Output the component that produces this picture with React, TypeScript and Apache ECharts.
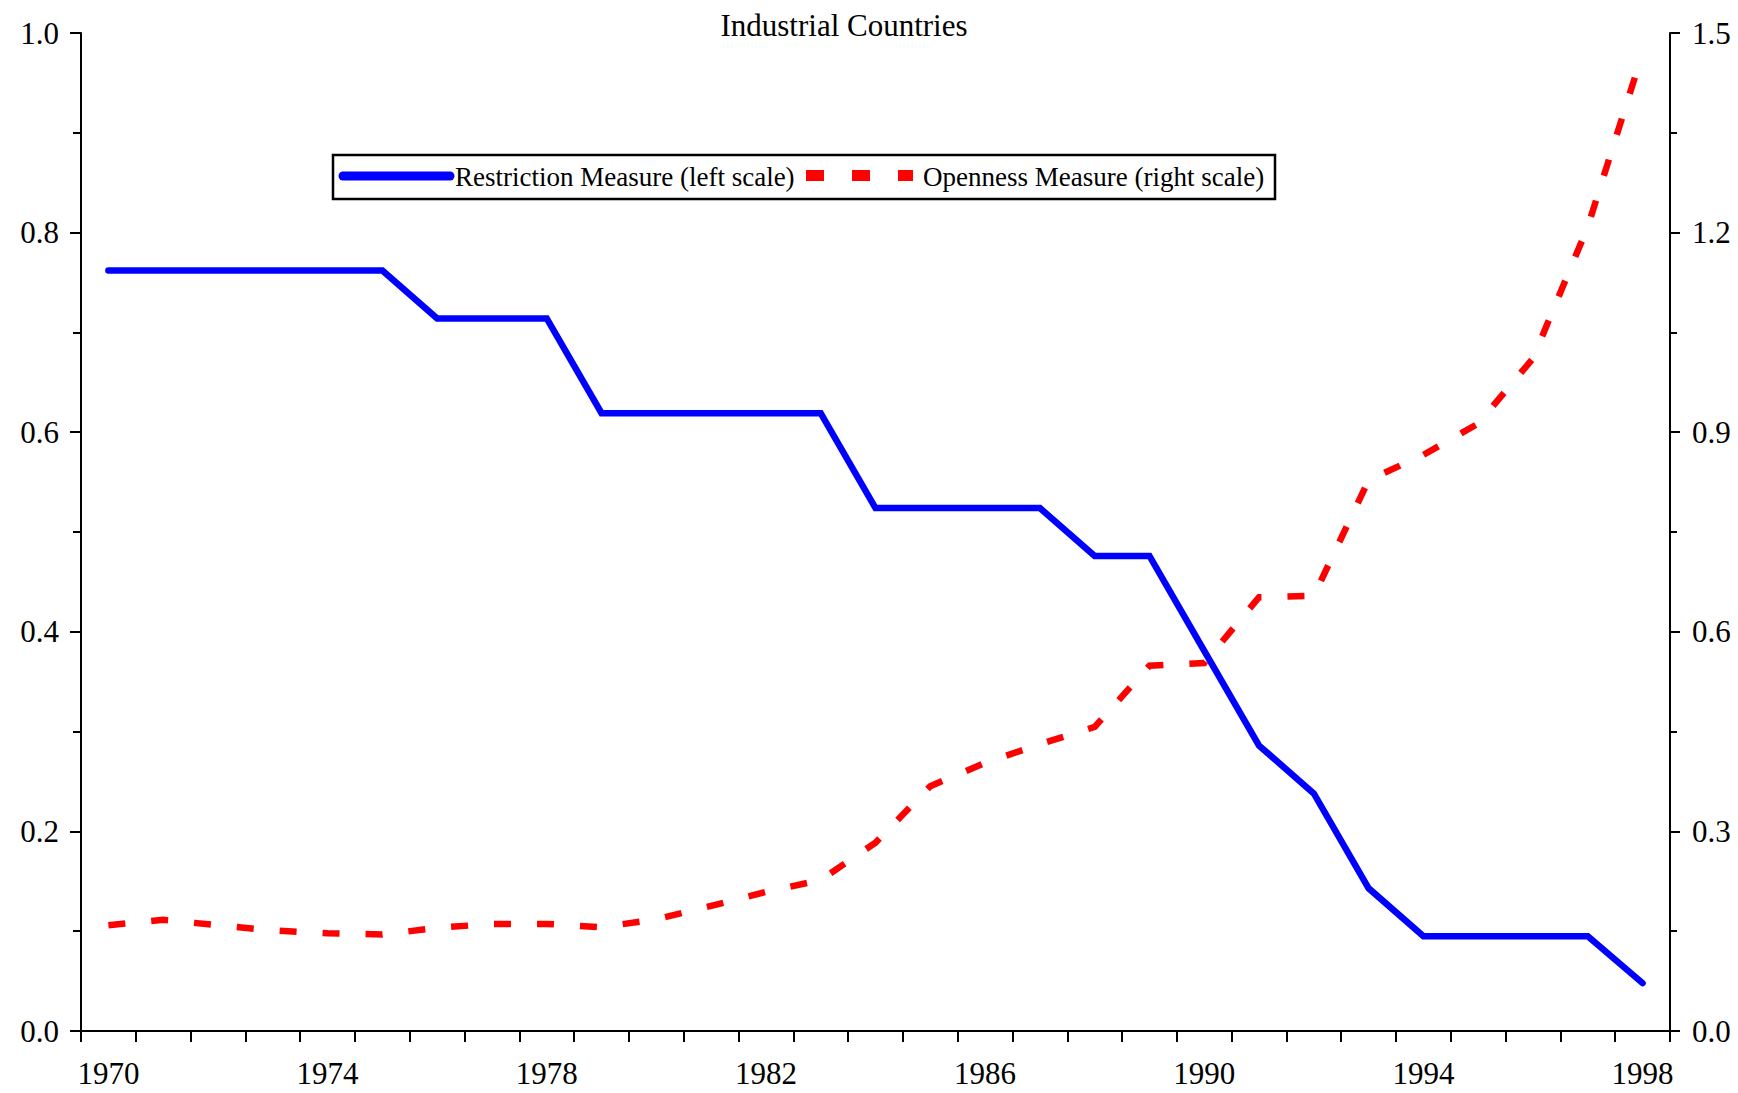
import React, { useEffect, useRef } from "react";
import * as echarts from "echarts";

const years = [
  "1970", "1971", "1972", "1973", "1974", "1975", "1976", "1977", "1978", "1979",
  "1980", "1981", "1982", "1983", "1984", "1985", "1986", "1987", "1988", "1989",
  "1990", "1991", "1992", "1993", "1994", "1995", "1996", "1997", "1998",
];

// Restriction Measure (left scale)
const restriction = [
  0.762, 0.762, 0.762, 0.762, 0.762, 0.762, 0.714, 0.714, 0.714, 0.619,
  0.619, 0.619, 0.619, 0.619, 0.524, 0.524, 0.524, 0.524, 0.476, 0.476,
  0.381, 0.286, 0.238, 0.143, 0.095, 0.095, 0.095, 0.095, 0.048,
];

// Openness Measure (right scale)
const openness = [
  0.159, 0.167, 0.159, 0.151, 0.147, 0.145, 0.155, 0.161, 0.161, 0.156,
  0.168, 0.188, 0.209, 0.227, 0.283, 0.368, 0.403, 0.431, 0.457, 0.549,
  0.553, 0.652, 0.654, 0.828, 0.866, 0.913, 1.011, 1.209, 1.47,
];

const titleText = "Industrial Countries";
const restrictionName = "Restriction Measure (left scale)";
const opennessName = "Openness Measure (right scale)";

const FONT = "'Liberation Serif', 'Times New Roman', serif";

export default function App() {
  const ref = useRef<HTMLDivElement>(null);

  useEffect(() => {
    if (!ref.current) return;
    const chart = echarts.init(ref.current, null, { renderer: "svg" });
    const axisLine = { show: true, lineStyle: { color: "#000", width: 2 } };
    const labelStyle = { color: "#000", fontSize: 31, fontFamily: FONT };

    chart.setOption({
      animation: false,
      backgroundColor: "#fff",
      grid: { left: 81, right: 68, top: 33, bottom: 62, containLabel: false },
      xAxis: {
        type: "category",
        data: years,
        boundaryGap: true,
        axisLine: { ...axisLine, onZero: false },
        axisTick: { show: true, interval: 0, length: 11, lineStyle: { color: "#000", width: 2 } },
        axisLabel: { ...labelStyle, interval: 3, margin: 27 },
        splitLine: { show: false },
      },
      yAxis: [
        {
          type: "value",
          position: "left",
          min: 0,
          max: 1,
          interval: 0.2,
          axisLine,
          axisTick: { show: true, length: 11, lineStyle: { color: "#000", width: 2 } },
          minorTick: { show: true, splitNumber: 2, length: 8, lineStyle: { color: "#000", width: 2 } },
          axisLabel: { ...labelStyle, margin: 22, formatter: (v: number) => v.toFixed(1) },
          splitLine: { show: false },
        },
        {
          type: "value",
          position: "right",
          min: 0,
          max: 1.5,
          interval: 0.3,
          axisLine,
          axisTick: { show: true, length: 10, lineStyle: { color: "#000", width: 2 } },
          minorTick: { show: true, splitNumber: 2, length: 7, lineStyle: { color: "#000", width: 2 } },
          axisLabel: { ...labelStyle, margin: 22, formatter: (v: number) => v.toFixed(1) },
          splitLine: { show: false },
        },
      ],
      series: [
        {
          name: restrictionName,
          type: "line",
          yAxisIndex: 0,
          data: restriction,
          symbol: "none",
          lineStyle: { color: "#0000ff", width: 6.5, join: "miter", cap: "round" },
          z: 2,
        },
        {
          name: opennessName,
          type: "line",
          yAxisIndex: 1,
          data: openness,
          symbol: "none",
          lineStyle: { color: "#ff0000", width: 6.5, type: [17, 26], cap: "butt", join: "miter" },
          z: 3,
        },
      ],
      graphic: [
        {
          type: "text",
          x: 844,
          y: 25,
          style: {
            text: titleText,
            fontSize: 31,
            fontFamily: FONT,
            fill: "#000",
            align: "center",
            verticalAlign: "middle",
          },
        },
        {
          type: "rect",
          shape: { x: 333, y: 155, width: 942, height: 44 },
          style: { fill: "#fff", stroke: "#000", lineWidth: 2.5 },
          z: 10,
        },
        {
          type: "line",
          shape: { x1: 343, y1: 176, x2: 450, y2: 176 },
          style: { stroke: "#0000ff", lineWidth: 9, lineCap: "round" },
          z: 11,
        },
        {
          type: "text",
          x: 455,
          y: 177,
          style: {
            text: restrictionName,
            fontSize: 27,
            fontFamily: FONT,
            fill: "#000",
            align: "left",
            verticalAlign: "middle",
          },
          z: 11,
        },
        {
          type: "line",
          shape: { x1: 806, y1: 175.5, x2: 913, y2: 175.5 },
          style: { stroke: "#ff0000", lineWidth: 11, lineDash: [18, 28], lineCap: "butt" },
          z: 11,
        },
        {
          type: "text",
          x: 923,
          y: 177,
          style: {
            text: opennessName,
            fontSize: 27,
            fontFamily: FONT,
            fill: "#000",
            align: "left",
            verticalAlign: "middle",
          },
          z: 11,
        },
      ],
    });

    return () => chart.dispose();
  }, []);

  return (
    <div
      ref={ref}
      style={{ position: "absolute", left: 0, top: 0, width: 1738, height: 1093 }}
    />
  );
}
